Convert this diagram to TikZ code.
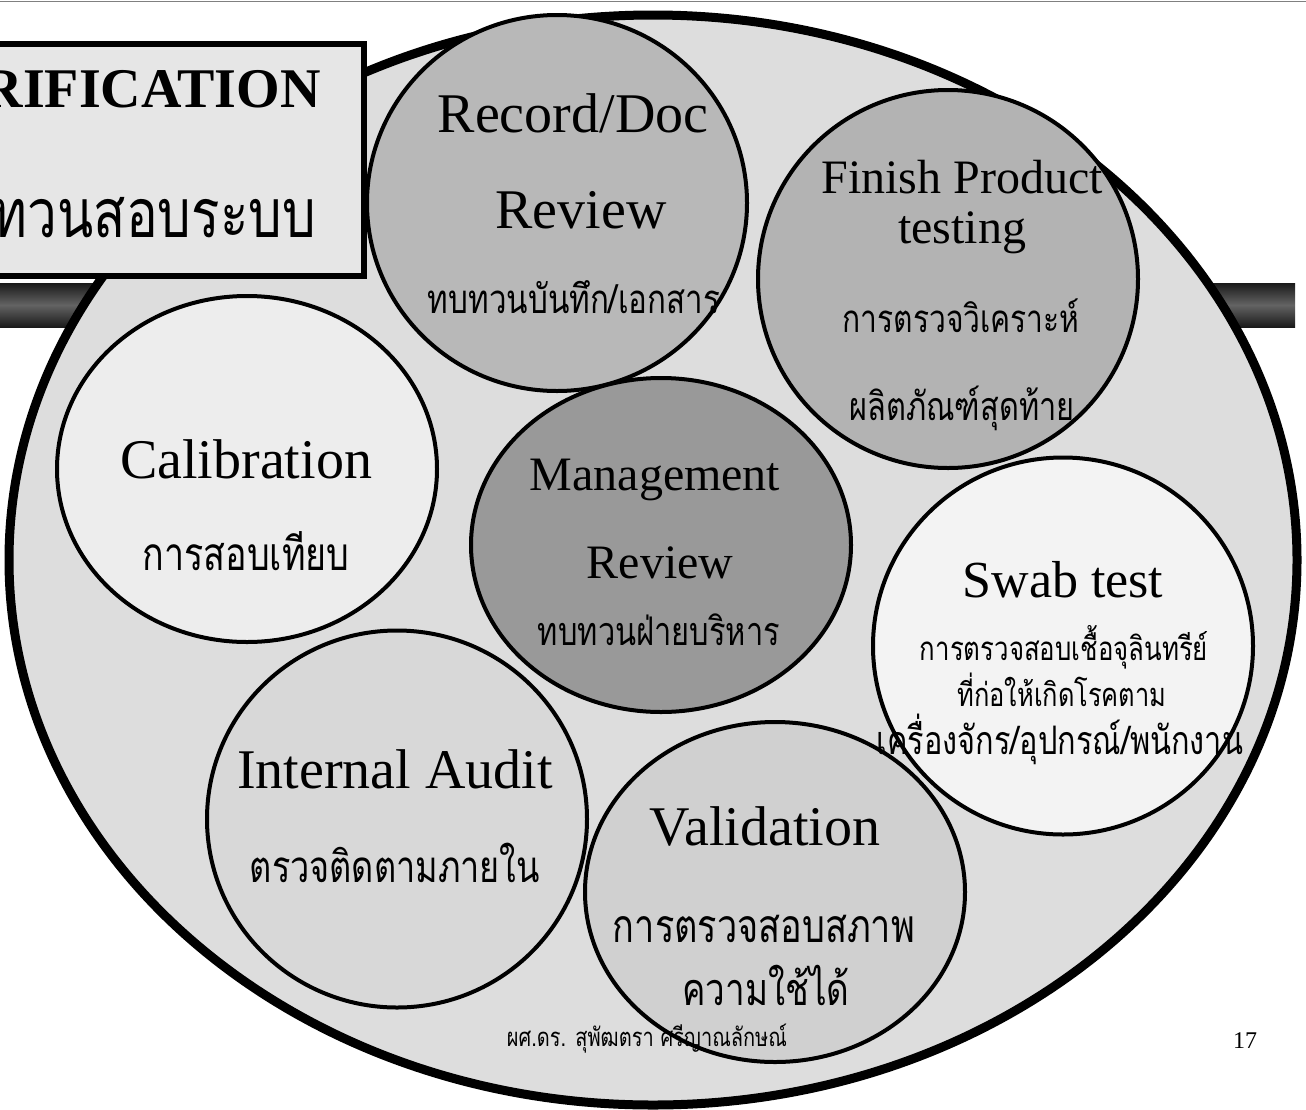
\documentclass[tikz,border=0pt]{standalone}
\usepackage{fontspec}
\usepackage{graphicx}
\setmainfont{Liberation Serif}
\newfontfamily\thai[Script=Thai,FakeStretch=0.78]{Loma}
\usetikzlibrary{shapes.geometric}
\newcommand{\tw}[2]{\resizebox{#1pt}{!}{\thai #2}}
\definecolor{blobgray}{HTML}{DDDDDD}
\definecolor{recgray}{HTML}{B8B8B8}
\definecolor{fingray}{HTML}{B3B3B3}
\definecolor{calgray}{HTML}{EDEDED}
\definecolor{mgtgray}{HTML}{999999}
\definecolor{swabgray}{HTML}{F3F3F3}
\definecolor{audgray}{HTML}{D8D8D8}
\definecolor{valgray}{HTML}{D0D0D0}
\definecolor{boxgray}{HTML}{E6E6E6}
\definecolor{bardark}{HTML}{1A1A1A}
\definecolor{barmid}{HTML}{636363}
\begin{document}
\begin{tikzpicture}[x=1pt,y=-1pt,
  blob/.style={fill=blobgray, draw=black, line width=9pt},
  bubble/.style={ellipse, draw=black, line width=4pt, minimum width=380pt, inner sep=0pt},
  bigtxt/.style={font=\fontsize{56}{60}\selectfont, inner sep=0pt, anchor=base},
  midtxt/.style={font=\fontsize{48}{52}\selectfont, inner sep=0pt, anchor=base},
  thtxt/.style={inner sep=0pt, anchor=base}
]
\useasboundingbox (0,0) rectangle (1306,1109);
\fill[white] (0,0) rectangle (1306,1109);
% top rule
\draw[gray, line width=1.5pt] (0,1.5) -- (1306,1.5);
% title bar behind
\shade[top color=bardark, bottom color=bardark, middle color=barmid] (0,283) rectangle (1295,327);
% big blob
\draw[blob] (653,560) ellipse [x radius=644pt, y radius=545pt];
% title box
\node (titlebox) [draw=black, line width=6pt, fill=boxgray, inner sep=0pt,
  minimum width=380pt, minimum height=232pt] at (174,160) {};
\node (titleen) [anchor=base east, inner sep=0pt, font=\bfseries\fontsize{56}{60}\selectfont] at (321,107) {RIFICATION};
\node (titleth) [anchor=base east, inner sep=0pt] at (316,237) {\tw{323}{ทวนสอบระบบ}};
% bubbles
\node (rec) [bubble, fill=recgray, minimum height=376pt] at (557,203) {};
\node (fin) [bubble, fill=fingray, minimum height=378pt] at (948,279) {};
\node (cal) [bubble, fill=calgray, minimum height=346pt] at (247,469) {};
\node (mgt) [bubble, fill=mgtgray, minimum height=334pt] at (661,545) {};
\node (swab) [bubble, fill=swabgray, minimum height=377pt] at (1063,646) {};
\node (aud) [bubble, fill=audgray, minimum height=377pt] at (397,819) {};
\node (val) [bubble, fill=valgray, minimum height=340pt] at (775,892) {};
% texts
\node (recA) [bigtxt] at (573,132) {Record/Doc};
\node (recB) [bigtxt] at (581,228) {Review};
\node (recC) [thtxt] at (574,313) {\tw{292}{ทบทวนบันทึก/เอกสาร}};
\node (finA) [midtxt] at (962,193) {Finish Product};
\node (finB) [midtxt] at (962,243) {testing};
\node (finC) [thtxt] at (961,332) {\tw{237}{การตรวจวิเคราะห์}};
\node (finD) [thtxt] at (962,420) {\tw{225}{ผลิตภัณฑ์สุดท้าย}};
\node (calA) [bigtxt] at (246,478) {Calibration};
\node (calB) [thtxt] at (246,570) {\tw{207}{การสอบเทียบ}};
\node (mgtA) [midtxt] at (655,490) {Management};
\node (mgtB) [midtxt] at (660,578) {Review};
\node (mgtC) [thtxt] at (659,645) {\tw{242}{ทบทวนฝ่ายบริหาร}};
\node (swabA) [thtxt, font=\fontsize{52}{56}\selectfont] at (1063,597) {Swab test};
\node (swabB) [thtxt] at (1064,660) {\tw{288}{การตรวจสอบเชื้อจุลินทรีย์}};
\node (swabC) [thtxt] at (1062,706) {\tw{209}{ที่ก่อให้เกิดโรคตาม}};
\node (swabD) [thtxt] at (1060,754) {\tw{366}{เครื่องจักร/อุปกรณ์/พนักงาน}};
\node (audA) [bigtxt] at (395,788) {Internal Audit};
\node (audB) [thtxt] at (395,882) {\tw{290}{ตรวจติดตามภายใน}};
\node (valA) [bigtxt] at (765,845) {Validation};
\node (valB) [thtxt] at (764,942) {\tw{302}{การตรวจสอบสภาพ}};
\node (valC) [thtxt] at (766,1005) {\tw{167}{ความใช้ได้}};
% footer
\node (foot) [thtxt] at (647,1046) {\tw{280}{ผศ.ดร. สุพัฒตรา ศรีญาณลักษณ์}};
\node (page) [thtxt, font=\fontsize{24}{28}\selectfont] at (1245,1048) {17};
\end{tikzpicture}
\end{document}
